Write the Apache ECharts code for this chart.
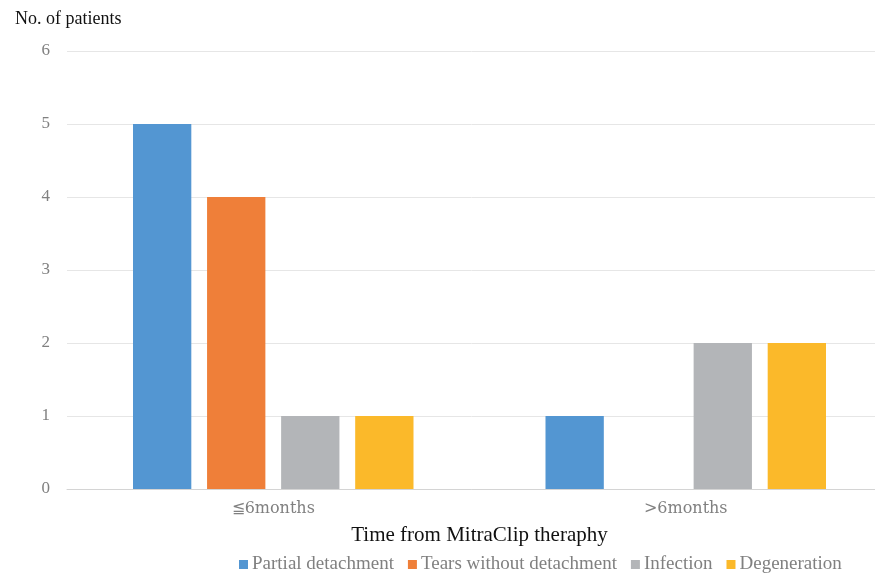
<!DOCTYPE html>
<html>
<head>
<meta charset="utf-8">
<script src="https://cdn.jsdelivr.net/npm/echarts@6/dist/echarts.min.js"></script>
<style>
  html, body { margin: 0; padding: 0; background: #fff; }
  #chart { width: 875px; height: 574px; }
</style>
</head>
<body>
<div id="chart"></div>
<script>
// data
var categories = ['≦6months', '>6months'];
var partialDetachment = [5, 1];
var tearsWithoutDetachment = [4, 0];
var infection = [1, 2];
var degeneration = [1, 2];
var yTicks = [0, 1, 2, 3, 4, 5, 6];

var serif = '"Liberation Serif", "DejaVu Serif", serif';

var myChart = echarts.init(document.getElementById('chart'));
var option = {
  backgroundColor: '#fff',
  animation: false,
  title: {
    text: 'No. of patients',
    left: 10, top: 5,
    textStyle: { fontFamily: serif, fontSize: 18, fontWeight: 'normal', color: '#111' }
  },
  legend: {
    left: 234, top: 550,
    itemWidth: 9, itemHeight: 9, itemGap: 14,
    icon: 'rect',
    textStyle: { fontFamily: serif, fontSize: 19, color: '#808080', padding: [0, 0, 0, -1] }
  },
  // plot runs past the right edge, like the source figure
  grid: { left: 67, right: -17, top: 51, bottom: 85, outerBoundsMode: 'none' },
  xAxis: {
    type: 'category',
    data: categories,
    name: 'Time from MitraClip theraphy',
    nameLocation: 'middle',
    nameGap: 36,
    nameTextStyle: { fontFamily: serif, fontSize: 21, color: '#111' },
    axisTick: { show: false },
    axisLine: { lineStyle: { color: '#d4d4d4', width: 1 } },
    axisLabel: { fontFamily: '"DejaVu Serif", serif', fontSize: 16, color: '#808080', margin: 12 }
  },
  yAxis: {
    type: 'value',
    min: yTicks[0], max: yTicks[yTicks.length - 1], interval: 1,
    axisLine: { show: false },
    axisTick: { show: false },
    splitLine: { lineStyle: { color: '#e6e6e6', width: 1 } },
    axisLabel: { fontFamily: serif, fontSize: 17, color: '#808080', margin: 17 }
  },
  series: [
    { name: 'Partial detachment', type: 'bar', data: partialDetachment,
      itemStyle: { color: '#5396d2' }, barGap: '27%', barCategoryGap: '32%' },
    { name: 'Tears without detachment', type: 'bar', data: tearsWithoutDetachment,
      itemStyle: { color: '#ef7f39' } },
    { name: 'Infection', type: 'bar', data: infection,
      itemStyle: { color: '#b3b5b8' } },
    { name: 'Degeneration', type: 'bar', data: degeneration,
      itemStyle: { color: '#fbb92a' } }
  ]
};
myChart.setOption(option);
</script>
</body>
</html>
